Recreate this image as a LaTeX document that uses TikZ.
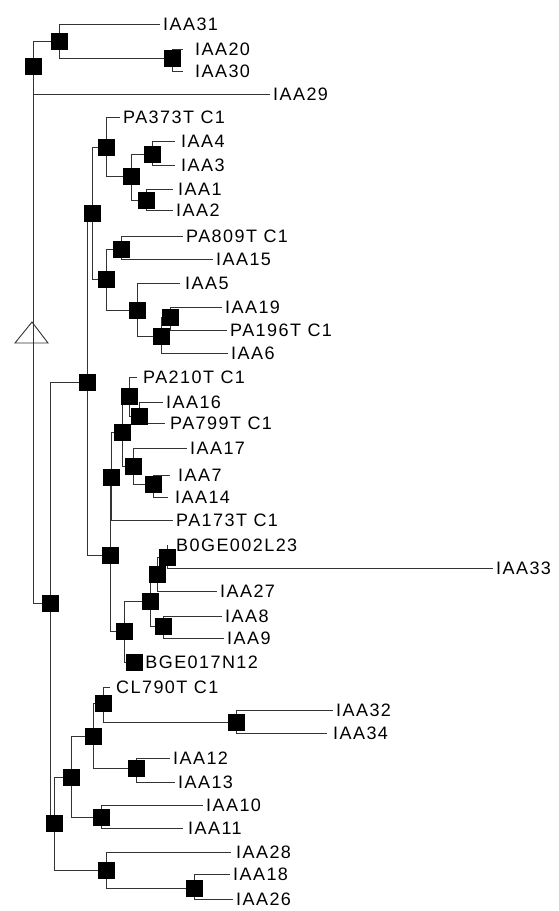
\documentclass[tikz,border=0pt]{standalone}
\usepackage{fontspec}
\newfontfamily\leaffont{Liberation Sans}[LetterSpace=8]
\usetikzlibrary{positioning, backgrounds}

\begin{document}
\begin{tikzpicture}[x=1pt, y=-1pt, font=\leaffont\fontsize{18}{20}\selectfont,
      sq/.style={draw=black, fill=black, minimum size=16pt, inner sep=0pt},
      lf/.style={anchor=west, inner xsep=3pt, inner ysep=1pt},
      ln/.style={draw=black!80, line width=0.9pt}]
      \useasboundingbox (0,0) rectangle (558,911);

      % top clade
      \node[sq] (root) at (33,66) {};
      \node[sq] (ka) at (59,41) {};
      \node[sq] (kb) at (172,58) {};
      \node[lf] (i31) at (160,24) {IAA31};
      \node[lf, inner xsep=12pt] (i20) at (183,49) {IAA20};
      \node[lf, inner xsep=12pt] (i30) at (183,71) {IAA30};
      \node[lf] (i29) at (270,94) {IAA29};

      % upper big clade
      \node[sq] (kc) at (50,603) {};
      \node[sq] (kd) at (87,382) {};
      \node[sq] (kf) at (92,213) {};
      \node[sq] (kh) at (106,147) {};
      \node[sq] (kj) at (131,176) {};
      \node[sq] (kk) at (152,154) {};
      \node[sq] (kl) at (146,200) {};
      \node[lf] (pa373) at (120,117) {PA373T C1};
      \node[lf, inner xsep=6pt] (i4) at (175,141) {IAA4};
      \node[lf, inner xsep=6pt] (i3) at (175,165) {IAA3};
      \node[lf, inner xsep=5pt] (i1) at (173,189) {IAA1};
      \node[lf] (i2) at (173,210) {IAA2};
      \node[sq] (ki) at (106,279) {};
      \node[sq] (km) at (121,249) {};
      \node[sq] (kn) at (137,310) {};
      \node[sq] (ko) at (161,336) {};
      \node[sq] (kp) at (170,317) {};
      \node[lf] (pa809) at (183,236) {PA809T C1};
      \node[lf] (i15) at (213,259) {IAA15};
      \node[lf, inner xsep=5pt] (i5) at (180,283) {IAA5};
      \node[lf] (i19) at (222,307) {IAA19};
      \node[lf] (pa196) at (227,330) {PA196T C1};
      \node[lf] (i6) at (228,353) {IAA6};

      \node[sq] (kg) at (110,555) {};
      \node[sq] (kq) at (111,477) {};
      \node[sq] (kr) at (122,432) {};
      \node[sq] (ky) at (129,396) {};
      \node[sq] (kz) at (139,416) {};
      \node[sq] (kaa) at (133,466) {};
      \node[sq] (kab) at (153,484) {};
      \node[lf, inner xsep=6pt] (pa210) at (137,377) {PA210T C1};
      \node[lf] (i16) at (163,402) {IAA16};
      \node[lf, inner xsep=5pt] (pa799) at (165,423) {PA799T C1};
      \node[lf] (i17) at (187,448) {IAA17};
      \node[lf, inner xsep=8pt] (i7) at (170,475) {IAA7};
      \node[lf, inner xsep=7pt] (i14) at (168,497) {IAA14};
      \node[lf] (pa173) at (173,520) {PA173T C1};

      \node[sq] (kt) at (124,631) {};
      \node[sq] (ku) at (150,601) {};
      \node[sq] (kv) at (157,574) {};
      \node[sq] (kx) at (167,557) {};
      \node[sq] (kw) at (163,626) {};
      \node[sq] (kbge) at (134,662) {};
      \node[lf, inner xsep=8pt] (b0ge) at (168,545) {B0GE002L23};
      \node[lf] (i33) at (493,568) {IAA33};
      \node[lf] (i27) at (217,591) {IAA27};
      \node[lf] (i8) at (222,616) {IAA8};
      \node[lf] (i9) at (224,638) {IAA9};
      \node[lf, right=0pt of kbge] (bge) {BGE017N12};

      % lower clade
      \node[sq] (ke) at (54,823) {};
      \node[sq] (kac) at (71,777) {};
      \node[sq] (kae) at (93,736) {};
      \node[sq] (kag) at (103,703) {};
      \node[sq] (kai) at (236,722) {};
      \node[sq] (kah) at (136,768) {};
      \node[sq] (kaf) at (101,817) {};
      \node[sq] (kad) at (106,870) {};
      \node[sq] (kaj) at (194,888) {};
      \node[lf, inner xsep=6pt] (cl790) at (110,687) {CL790T C1};
      \node[lf] (i32) at (333,710) {IAA32};
      \node[lf, inner xsep=6pt] (i34) at (327,733) {IAA34};
      \node[lf] (i12) at (170,758) {IAA12};
      \node[lf] (i13) at (175,782) {IAA13};
      \node[lf] (i10) at (203,805) {IAA10};
      \node[lf, inner xsep=5pt] (i11) at (183,828) {IAA11};
      \node[lf, inner xsep=5pt] (i28) at (231,852) {IAA28};
      \node[lf] (i18) at (230,874) {IAA18};
      \node[lf] (i26) at (233,899) {IAA26};

      \begin{scope}[on background layer]
      \draw[ln] (root) |- (ka); \draw[ln] (root) |- (i29); \draw[ln] (root) |- (kc);
      \draw[ln] (ka) |- (i31); \draw[ln] (ka) |- (kb);
      \draw[ln] (kb) |- (i20); \draw[ln] (kb) |- (i30);
      \draw[ln] (kc) |- (kd); \draw[ln] (kc) |- (ke);
      \draw[ln] (kd) |- (kf); \draw[ln] (kd) |- (kg);
      \draw[ln] (kf) |- (kh); \draw[ln] (kf) |- (ki);
      \draw[ln] (kh) |- (pa373); \draw[ln] (kh) |- (kj);
      \draw[ln] (kj) |- (kk); \draw[ln] (kj) |- (kl);
      \draw[ln] (kk) |- (i4); \draw[ln] (kk) |- (i3);
      \draw[ln] (kl) |- (i1); \draw[ln] (kl) |- (i2);
      \draw[ln] (ki) |- (km); \draw[ln] (ki) |- (kn);
      \draw[ln] (km) |- (pa809); \draw[ln] (km) |- (i15);
      \draw[ln] (kn) |- (i5); \draw[ln] (kn) |- (ko);
      \draw[ln] (ko) |- (kp); \draw[ln] (ko) |- (i6);
      \draw[ln] (kp) |- (i19); \draw[ln] (kp) |- (pa196);
      \draw[ln] (kg) |- (kq); \draw[ln] (kg) |- (kt);
      \draw[ln] (kq) |- (kr); \draw[ln] (kq) |- (pa173);
      \draw[ln] (kr) |- (ky); \draw[ln] (kr) |- (kaa);
      \draw[ln] (ky) |- (pa210); \draw[ln] (ky) |- (kz);
      \draw[ln] (kz) |- (i16); \draw[ln] (kz) |- (pa799);
      \draw[ln] (kaa) |- (i17); \draw[ln] (kaa) |- (kab);
      \draw[ln] (kab) |- (i7); \draw[ln] (kab) |- (i14);
      \draw[ln] (kt) |- (ku); \draw[ln] (kt) |- (kbge);
      \draw[ln] (ku) |- (kv); \draw[ln] (ku) |- (kw);
      \draw[ln] (kv) |- (kx); \draw[ln] (kv) |- (i27);
      \draw[ln] (kx) |- (b0ge); \draw[ln] (kx) |- (i33);
      \draw[ln] (kw) |- (i8); \draw[ln] (kw) |- (i9);
      \draw[ln] (ke) |- (kac); \draw[ln] (ke) |- (kad);
      \draw[ln] (kac) |- (kae); \draw[ln] (kac) |- (kaf);
      \draw[ln] (kae) |- (kag); \draw[ln] (kae) |- (kah);
      \draw[ln] (kag) |- (cl790); \draw[ln] (kag) |- (kai);
      \draw[ln] (kai) |- (i32); \draw[ln] (kai) |- (i34);
      \draw[ln] (kah) |- (i12); \draw[ln] (kah) |- (i13);
      \draw[ln] (kaf) |- (i10); \draw[ln] (kaf) |- (i11);
      \draw[ln] (kad) |- (i28); \draw[ln] (kad) |- (kaj);
      \draw[ln] (kaj) |- (i18); \draw[ln] (kaj) |- (i26);
      \end{scope}

      \draw[ln] (32,322) -- (48,343) -- (15,343) -- cycle;
\end{tikzpicture}
\end{document}
